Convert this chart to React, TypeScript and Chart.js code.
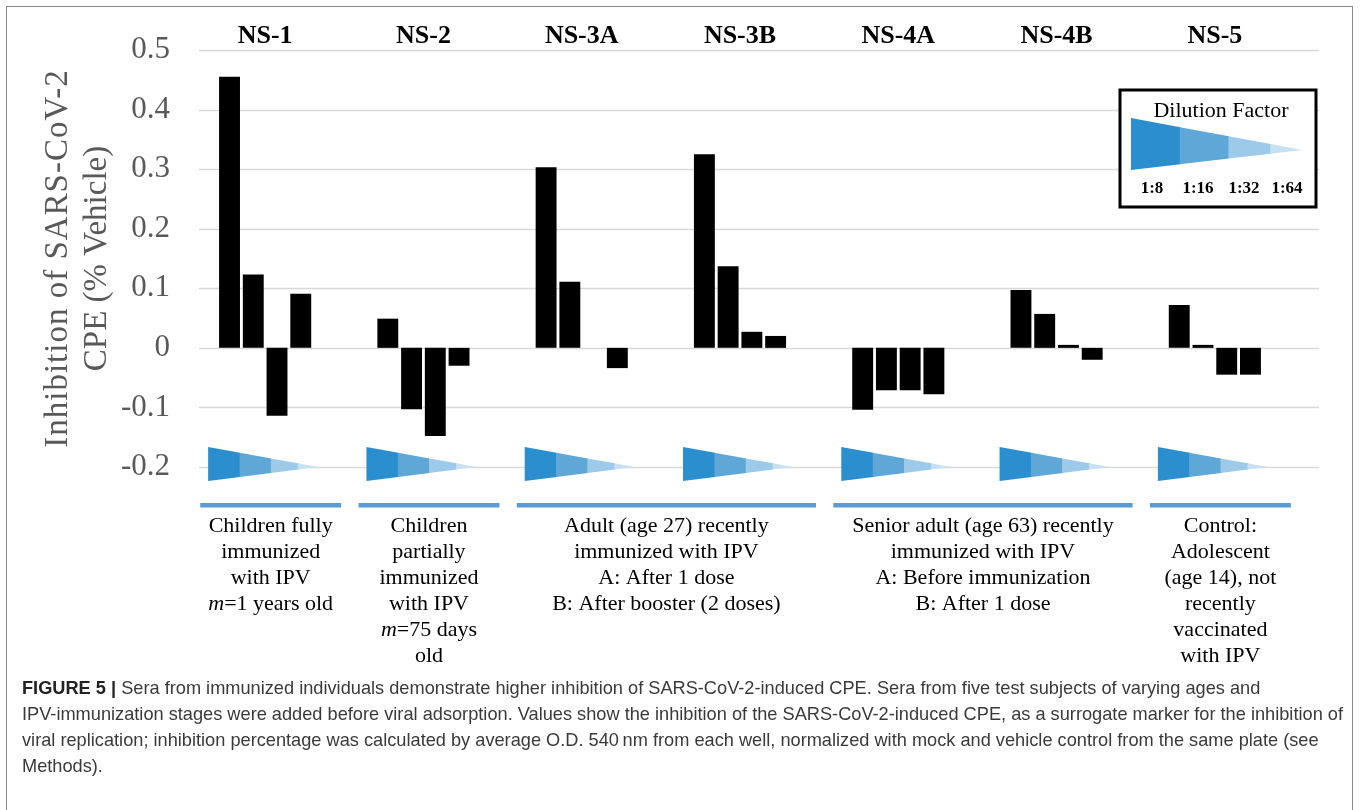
import React, { useEffect, useRef } from "react";
import { Chart, registerables } from "chart.js";

Chart.register(...registerables);

// ---- data ----
const categories = ["NS-1", "NS-2", "NS-3A", "NS-3B", "NS-4A", "NS-4B", "NS-5"];
const dilutionLabels = ["1:8", "1:16", "1:32", "1:64"];
const dil_1_8 = [0.455, 0.049, 0.303, 0.325, -0.104, 0.097, 0.072];
const dil_1_16 = [0.123, -0.103, 0.111, 0.137, -0.071, 0.057, 0.005];
const dil_1_32 = [-0.114, -0.148, 0, 0.027, -0.071, 0.005, -0.045];
const dil_1_64 = [0.091, -0.03, -0.034, 0.02, -0.078, -0.02, -0.045];
const yMin = -0.2;
const yMax = 0.5;
const yStep = 0.1;
const yTitle = ["Inhibition of SARS-CoV-2", "CPE (% Vehicle)"];
const legendTitle = "Dilution Factor";

const groupFrom = [0, 1, 2, 4, 6];
const groupTo = [0, 1, 3, 5, 6];
const groupText = [
  ["Children fully", "immunized", "with IPV", "*m*=1 years old"],
  ["Children", "partially", "immunized", "with IPV", "*m*=75 days", "old"],
  ["Adult (age 27) recently", "immunized with IPV", "A: After 1 dose", "B: After booster (2 doses)"],
  ["Senior adult (age 63) recently", "immunized with IPV", "A: Before immunization", "B: After 1 dose"],
  ["Control:", "Adolescent", "(age 14), not", "recently", "vaccinated", "with IPV"],
];

const captionLead = "FIGURE 5 | ";
const captionLines = [
  "Sera from immunized individuals demonstrate higher inhibition of SARS-CoV-2-induced CPE. Sera from five test subjects of varying ages and",
  "IPV-immunization stages were added before viral adsorption. Values show the inhibition of the SARS-CoV-2-induced CPE, as a surrogate marker for the inhibition of",
  "viral replication; inhibition percentage was calculated by average O.D. 540\u2009nm from each well, normalized with mock and vehicle control from the same plate (see",
  "Methods).",
];

// ---- styles ----
const SERIF = "'Liberation Serif', 'Times New Roman', serif";
const WEDGE_COLORS = ["#2b8ecf", "#5fa7d7", "#9ccae8", "#c7e1f3"];
const WEDGE_STOPS = [0, 0.286, 0.57, 0.815, 1];
const CAPTION_WIDTH = 1321; // width of the longest caption line

function drawWedge(ctx: CanvasRenderingContext2D, left: number, right: number, top: number, tipY: number, bottom: number) {
  const w = right - left;
  for (let i = 0; i < 4; i++) {
    const f0 = WEDGE_STOPS[i];
    const f1 = WEDGE_STOPS[i + 1];
    const x0 = left + w * f0;
    const x1 = left + w * f1;
    const t0 = top + (tipY - top) * f0;
    const t1 = top + (tipY - top) * f1;
    const b0 = bottom - (bottom - tipY) * f0;
    const b1 = bottom - (bottom - tipY) * f1;
    const ext = i < 3 ? 0.5 : 0;
    ctx.beginPath();
    ctx.moveTo(x0, t0);
    ctx.lineTo(x1 + ext, t1);
    ctx.lineTo(x1 + ext, b1);
    ctx.lineTo(x0, b0);
    ctx.closePath();
    ctx.fillStyle = WEDGE_COLORS[i];
    ctx.fill();
  }
}

function drawRich(ctx: CanvasRenderingContext2D, text: string, cx: number, cy: number, size: number) {
  const parts: { t: string; it: boolean }[] = [];
  const m = text.match(/^\*(.+?)\*(.*)$/);
  if (m) {
    parts.push({ t: m[1], it: true });
    parts.push({ t: m[2], it: false });
  } else parts.push({ t: text, it: false });
  let total = 0;
  for (const p of parts) {
    ctx.font = `${p.it ? "italic " : ""}${size}px ${SERIF}`;
    total += ctx.measureText(p.t).width;
  }
  let x = cx - total / 2;
  ctx.textAlign = "left";
  ctx.textBaseline = "middle";
  for (const p of parts) {
    ctx.font = `${p.it ? "italic " : ""}${size}px ${SERIF}`;
    ctx.fillText(p.t, x, cy);
    x += ctx.measureText(p.t).width;
  }
}

const decorPlugin = {
  id: "decor",
  beforeDatasetsDraw(chart: any) {
    const { ctx, chartArea, scales } = chart;
    const y = scales.y;
    ctx.save();
    ctx.strokeStyle = "#d9d9d9";
    ctx.lineWidth = 1.5;
    for (const t of y.ticks) {
      const yp = Math.round(y.getPixelForValue(t.value)) + 0.5;
      ctx.beginPath();
      ctx.moveTo(chartArea.left + 13, yp);
      ctx.lineTo(chartArea.right + 25, yp);
      ctx.stroke();
    }
    ctx.restore();
  },
  afterDatasetsDraw(chart: any) {
    const { ctx, chartArea, scales } = chart;
    const x = scales.x;
    const y = scales.y;
    const cw = x.getPixelForValue(1) - x.getPixelForValue(0);
    const y0 = y.getPixelForValue(yMin);
    ctx.save();

    categories.forEach((_, i) => {
      const cx = x.getPixelForValue(i);
      drawWedge(ctx, cx - 57, cx + 53, y0 - 20, y0, y0 + 14);
    });

    ctx.fillStyle = "#000";
    ctx.textAlign = "center";
    ctx.textBaseline = "middle";
    ctx.font = `bold 26px ${SERIF}`;
    categories.forEach((c, i) => {
      ctx.fillText(c, x.getPixelForValue(i), 36);
    });

    groupFrom.forEach((f, gi) => {
      const l = x.getPixelForValue(f) - 0.41 * cw;
      const r = x.getPixelForValue(groupTo[gi]) + 0.48 * cw;
      ctx.fillStyle = "#5b9bd5";
      ctx.fillRect(l, y0 + 36, r - l, 4.5);
      ctx.fillStyle = "#000";
      const mid = (l + r) / 2;
      groupText[gi].forEach((line, li) => {
        drawRich(ctx, line, mid, y0 + 59 + li * 26, 22);
      });
    });

    // y-axis title
    ctx.fillStyle = "#595959";
    ctx.font = `33px ${SERIF}`;
    ctx.textAlign = "center";
    ctx.textBaseline = "middle";
    const ym = (chartArea.top + chartArea.bottom) / 2;
    [58, 97].forEach((xx, i) => {
      ctx.save();
      (ctx as any).letterSpacing = i === 0 ? "1px" : "0px";
      ctx.translate(xx, ym);
      ctx.rotate(-Math.PI / 2);
      ctx.fillText(yTitle[i], 0, 0);
      ctx.restore();
    });

    // legend box
    const bx = 1120, by = 90, bw = 196, bh = 117;
    ctx.fillStyle = "#fff";
    ctx.fillRect(bx, by, bw, bh);
    ctx.strokeStyle = "#000";
    ctx.lineWidth = 3;
    ctx.strokeRect(bx, by, bw, bh);
    ctx.fillStyle = "#000";
    ctx.font = `22px ${SERIF}`;
    ctx.textAlign = "center";
    ctx.fillText(legendTitle, 1221, 111);
    drawWedge(ctx, 1131, 1302, 118, 150, 170);
    ctx.fillStyle = "#000";
    ctx.font = `bold 17px ${SERIF}`;
    const lx = [1152, 1198, 1244, 1287];
    dilutionLabels.forEach((d, i) => ctx.fillText(d, lx[i], 189));

    ctx.restore();
  },
};

export default function App() {
  const ref = useRef<HTMLCanvasElement | null>(null);
  const capRef = useRef<HTMLDivElement | null>(null);
  const line2Ref = useRef<HTMLSpanElement | null>(null);

  useEffect(() => {
    if (capRef.current && line2Ref.current) {
      const w = line2Ref.current.getBoundingClientRect().width;
      if (w > 0) capRef.current.style.transform = `scaleX(${CAPTION_WIDTH / w})`;
    }
  }, []);

  useEffect(() => {
    if (!ref.current) return;
    const series = [dil_1_8, dil_1_16, dil_1_32, dil_1_64];
    const chart = new Chart(ref.current, {
      type: "bar",
      data: {
        labels: categories,
        datasets: series.map((s, i) => ({
          label: dilutionLabels[i],
          data: s,
          backgroundColor: "#000",
          borderWidth: 0,
          categoryPercentage: 0.6,
          barPercentage: 0.88,
        })),
      },
      options: {
        responsive: false,
        animation: false,
        devicePixelRatio: 1,
        layout: { padding: { top: 50, bottom: 343, left: 0, right: 66 } },
        plugins: { legend: { display: false }, tooltip: { enabled: false }, title: { display: false } },
        scales: {
          x: { display: false, offset: true },
          y: {
            min: yMin,
            max: yMax,
            grid: { display: false },
            border: { display: false },
            ticks: {
              stepSize: yStep,
              padding: 8,
              color: "#595959",
              font: { family: "'Liberation Serif', 'Times New Roman', serif", size: 31 },
              callback: (v: any) => String(Math.round(Number(v) * 10) / 10),
            },
            afterFit: (s: any) => {
              s.width = 186;
            },
          },
        },
      },
      plugins: [decorPlugin],
    } as any);
    return () => chart.destroy();
  }, []);

  return (
    <div style={{ position: "fixed", left: 0, top: 0, width: 1360, height: 810, overflow: "hidden", background: "#fff" }}>
      <div
        style={{
          position: "absolute",
          left: 6,
          top: 6,
          width: 1345,
          height: 900,
          border: "1.5px solid #8a8a8a",
        }}
      />
      <canvas ref={ref} width={1360} height={810} style={{ position: "absolute", left: 0, top: 0, width: 1360, height: 810 }} />
      <div
        ref={capRef}
        style={{
          position: "absolute",
          left: 22,
          top: 675,
          transformOrigin: "0 0",
          fontFamily: "'Liberation Sans', Arial, sans-serif",
          fontSize: 19,
          lineHeight: "26px",
          color: "#3a3a3a",
          whiteSpace: "nowrap",
        }}
      >
        {captionLines.map((l, i) => (
          <div key={i}>
            <span ref={i === 1 ? line2Ref : undefined}>
              {i === 0 ? <b style={{ color: "#222" }}>{captionLead}</b> : null}
              {l}
            </span>
          </div>
        ))}
      </div>
    </div>
  );
}
